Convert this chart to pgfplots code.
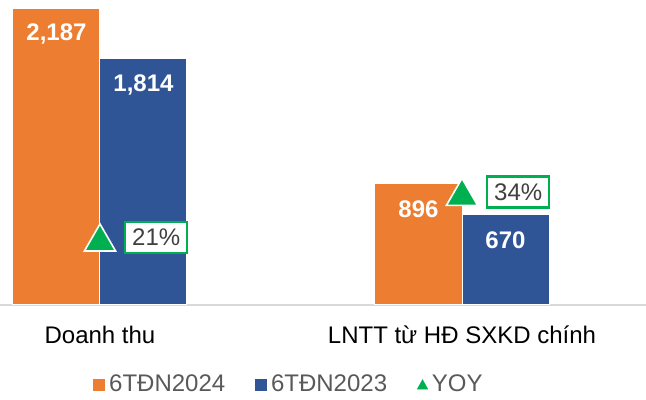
\documentclass[border=0pt]{standalone}
\usepackage{fontspec}
\setmainfont{Liberation Sans}
\usepackage{pgfplots}
\pgfplotsset{compat=1.18}
\definecolor{orangeC}{HTML}{ED7D31}
\definecolor{blueC}{HTML}{2F5597}
\definecolor{greenC}{HTML}{00B050}
\definecolor{txtgray}{HTML}{404040}
\definecolor{leggray}{HTML}{595959}
\definecolor{axgray}{HTML}{D9D9D9}
\begin{document}
\begin{tikzpicture}
\begin{axis}[
  at={(0,0)}, anchor=south west,
  scale only axis, width=323pt, height=152.5pt,
  xmin=-0.2762, xmax=1.5083, ymin=0, ymax=2246,
  axis y line=none, axis x line*=bottom,
  x axis line style={-, draw=axgray, line width=0.8pt},
  xtick={0,1}, xticklabels={Doanh thu, LNTT từ HĐ SXKD chính},
  major tick length=0pt,
  xticklabel style={font=\fontsize{12}{14}\selectfont, text=black, yshift=-7pt},
  clip=false,
  legend style={draw=none, fill=none, at={(axis description cs:0.1347,-0.2623)}, anchor=west,
    legend columns=3, font=\fontsize{12}{14}\selectfont, text=leggray,
    /tikz/every even column/.append style={column sep=13pt}},
]
% bars
\addplot[ybar, bar width=43.5pt, bar shift=-21.75pt, fill=orangeC, draw=white, line width=0.5pt, forget plot]
  coordinates {(0,2187) (1,896)};
\addplot[ybar, bar width=43.5pt, bar shift=21.75pt, fill=blueC, draw=white, line width=0.5pt, forget plot]
  coordinates {(0,1814) (1,670)};
% bar labels
\addplot[draw=none, mark=none, forget plot,
  point meta=explicit symbolic, nodes near coords,
  every node near coord/.append style={anchor=center, xshift=-21.75pt, yshift=-13pt, font=\fontsize{12}{14}\selectfont\bfseries, text=white}]
  coordinates {(0,2187) [{2,187}] (1,896) [896]};
\addplot[draw=none, mark=none, forget plot,
  point meta=explicit symbolic, nodes near coords,
  every node near coord/.append style={anchor=center, xshift=21.75pt, yshift=-13pt, font=\fontsize{12}{14}\selectfont\bfseries, text=white}]
  coordinates {(0,1814) [{1,814}] (1,670) [670]};
% YOY
\addplot[only marks, mark=triangle*, mark size=9pt, forget plot,
  mark options={fill=greenC, draw=white, line width=0.8pt},
  point meta=explicit symbolic, nodes near coords,
  every node near coord/.append style={anchor=west, xshift=12pt, yshift=2.25pt, draw=greenC, line width=1.2pt, fill=white,
    text=txtgray, font=\fontsize{12}{14}\selectfont, minimum height=15.5pt, minimum width=31pt, inner xsep=3pt, inner ysep=1pt}]
  coordinates {(0,464) [21\%] (1,800) [34\%]};
\addlegendimage{legend image code/.code={\fill[orangeC] (0pt,-2.75pt) rectangle (5.5pt,2.75pt);}}
\addlegendentry{6TĐN2024}
\addlegendimage{legend image code/.code={\fill[blueC] (0pt,-2.75pt) rectangle (5.5pt,2.75pt);}}
\addlegendentry{6TĐN2023}
\addlegendimage{legend image code/.code={\fill[greenC] (0pt,-2pt) -- (5pt,-2pt) -- (2.5pt,2.5pt) -- cycle;}}
\addlegendentry{YOY}
\end{axis}
\pgfresetboundingbox
\path[use as bounding box] (0,-47.5pt) rectangle (323pt,152.5pt);
\end{tikzpicture}
\end{document}
